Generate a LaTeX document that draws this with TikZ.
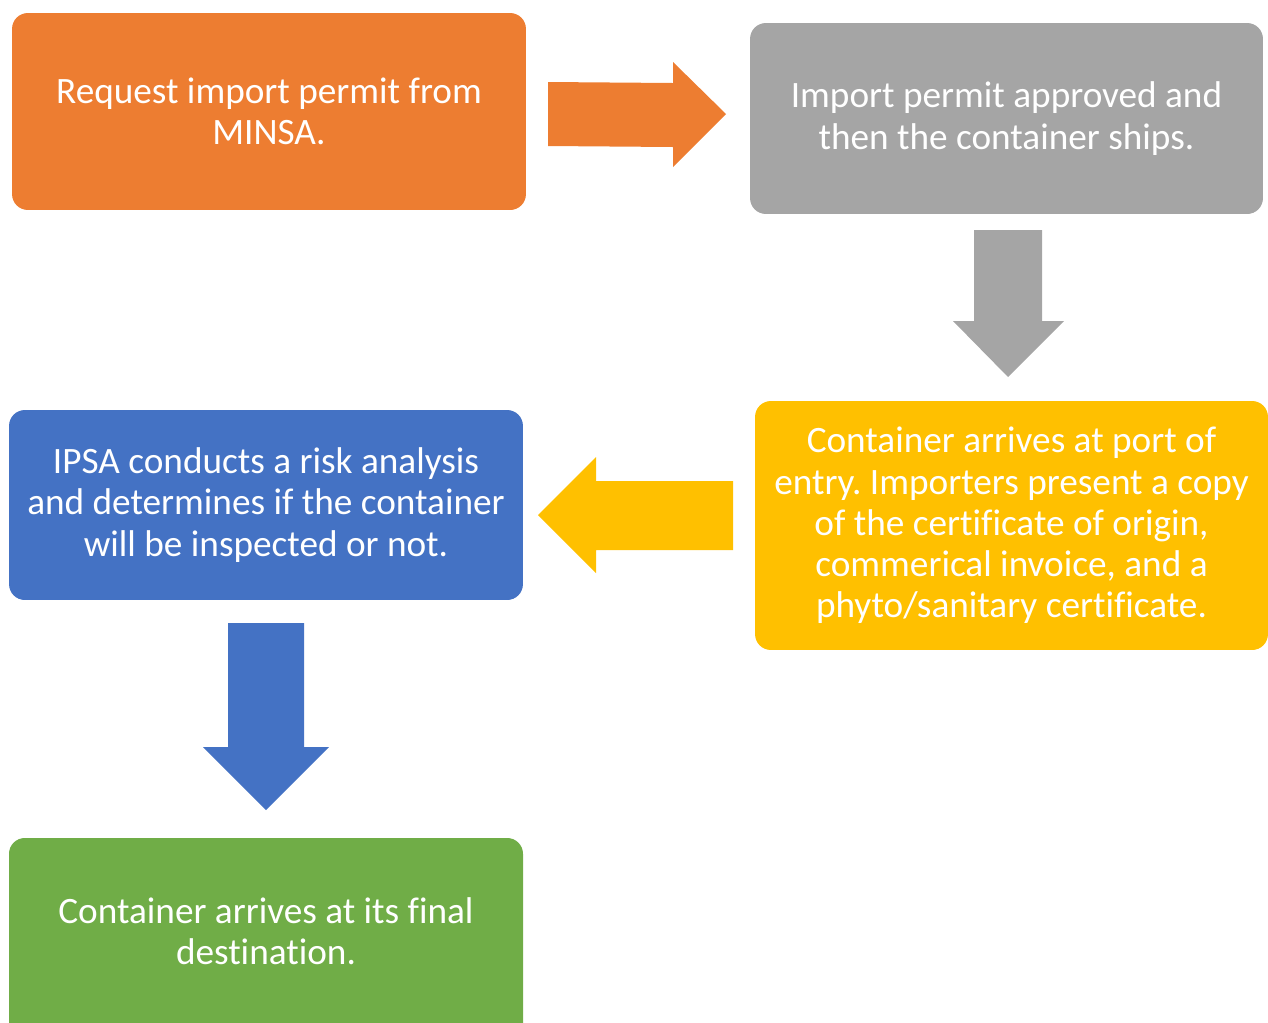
\documentclass[tikz,border=0pt]{standalone}
\usepackage{fontspec}
\setmainfont{Carlito}[Ligatures=NoCommon]
\frenchspacing
\definecolor{cOrange}{HTML}{ED7D31}
\definecolor{cGray}{HTML}{A5A5A5}
\definecolor{cYellow}{HTML}{FFC000}
\definecolor{cBlue}{HTML}{4472C4}
\definecolor{cGreen}{HTML}{70AD47}
\tikzset{
  stepbox/.style={rectangle, rounded corners=9pt, draw=none, text=white,
    align=center, inner sep=0pt,
    font=\fontsize{21.2}{23.5}\selectfont},
}
\begin{document}
\begin{tikzpicture}[x=0.02cm, y=-0.02cm]
  \useasboundingbox (0,0) rectangle (1268,1022);
  % process boxes
  \node[stepbox, fill=cOrange, minimum width=10.28cm, minimum height=3.94cm] (req) at (269,111.5)
    {Request import permit from\\MINSA.};
  \node[stepbox, fill=cGray, minimum width=10.26cm, minimum height=3.82cm] (appr) at (1006.5,118.5)
    {Import permit approved and\\then the container ships.};
  \node[stepbox, fill=cYellow, minimum width=10.26cm, minimum height=4.98cm] (port) at (1011.5,525.5)
    {Container arrives at port of\\entry. Importers present a copy\\of the certificate of origin,\\commerical invoice, and a\\phyto/sanitary certificate.};
  \node[stepbox, fill=cBlue, minimum width=10.28cm, minimum height=3.8cm] (ipsa) at (266,505)
    {IPSA conducts a risk analysis\\and determines if the container\\will be inspected or not.};
  % last box runs past the lower edge of the page
  \fill[cGreen, rounded corners=9pt] (9,838) rectangle (523,1045);
  \node[stepbox, minimum width=10.28cm, minimum height=3.72cm] (dest) at (266,931)
    {Container arrives at its final\\destination.};
  % block arrows between the steps
  \fill[cOrange] (548,82) -- (673,83) -- (673,62) -- (726,114) -- (673,167) -- (673,147) -- (548,146) -- cycle;
  \fill[cGray] (974,230) -- (1042,230) -- (1042,321) -- (1064,321) -- (1008,377) -- (953,321) -- (974,321) -- cycle;
  \fill[cYellow] (733,481) -- (596,481) -- (596,457) -- (538,515) -- (596,573) -- (596,550) -- (733,550) -- cycle;
  \fill[cBlue] (228,623) -- (304,623) -- (304,747) -- (329,747) -- (266,810) -- (203,747) -- (228,747) -- cycle;
\end{tikzpicture}
\end{document}
